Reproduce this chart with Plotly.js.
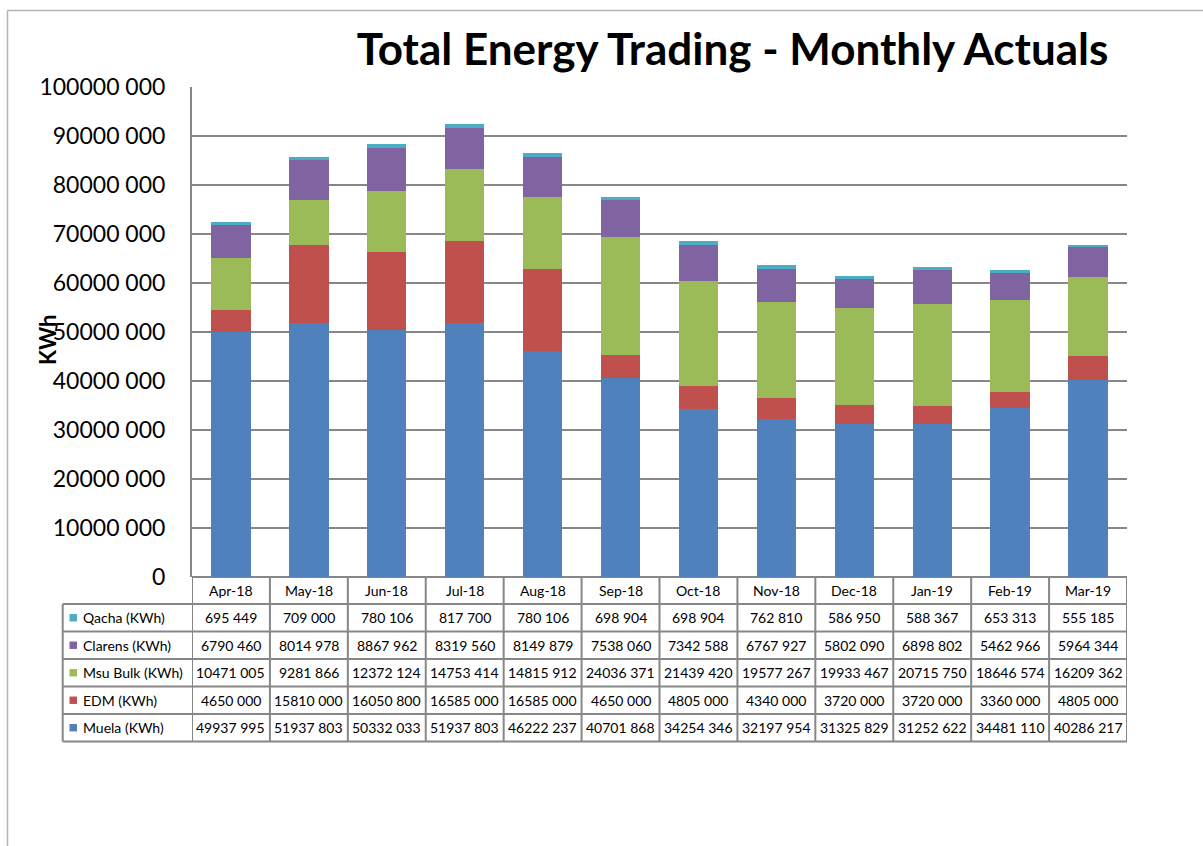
<!DOCTYPE html>
<html>
<head>
<meta charset="utf-8">
<script src="https://cdn.plot.ly/plotly-3.0.1.min.js"></script>
<style>
  html, body { margin: 0; padding: 0; background: #ffffff; }
  #chart { width: 1203px; height: 846px; }
</style>
</head>
<body>
<div id="chart"></div>
<script>
// ---------- data ----------
const months = ['Apr-18','May-18','Jun-18','Jul-18','Aug-18','Sep-18','Oct-18','Nov-18','Dec-18','Jan-19','Feb-19','Mar-19'];
const muela   = [49937995, 51937803, 50332033, 51937803, 46222237, 40701868, 34254346, 32197954, 31325829, 31252622, 34481110, 40286217];
const edm     = [4650000, 15810000, 16050800, 16585000, 16585000, 4650000, 4805000, 4340000, 3720000, 3720000, 3360000, 4805000];
const msuBulk = [10471005, 9281866, 12372124, 14753414, 14815912, 24036371, 21439420, 19577267, 19933467, 20715750, 18646574, 16209362];
const clarens = [6790460, 8014978, 8867962, 8319560, 8149879, 7538060, 7342588, 6767927, 5802090, 6898802, 5462966, 5964344];
const qacha   = [695449, 709000, 780106, 817700, 780106, 698904, 698904, 762810, 586950, 588367, 653313, 555185];

const seriesNames = ['Muela (KWh)', 'EDM (KWh)', 'Msu Bulk (KWh)', 'Clarens (KWh)', 'Qacha (KWh)'];
const seriesValues = [muela, edm, msuBulk, clarens, qacha];
const seriesColors = ['#4F81BD', '#C0504D', '#9BBB59', '#8064A2', '#4BACC6'];
const yTickVals = [0, 10000000, 20000000, 30000000, 40000000, 50000000, 60000000, 70000000, 80000000, 90000000, 100000000];

const chartTitle = 'Total Energy Trading - Monthly Actuals';
const yTitle = 'KWh';

// ---------- helpers ----------
function fmt(n) {
  if (n < 1000) return String(n);
  const hi = Math.floor(n / 1000);
  const lo = String(n % 1000).padStart(3, '0');
  return hi + ' ' + lo;
}
// plot area in pixels
const PL = 192, PR = 1127, PT = 87, PB = 577;
const PW = PR - PL, PH = PB - PT;
const px = v => (v - PL) / PW;
const py = v => (PB - v) / PH;

const FONT = 'Lato, "Open Sans", sans-serif';
const GRID = '#878787';
const TFS = 14;

// ---------- traces ----------
const traces = seriesValues.map((vals, i) => ({
  type: 'bar',
  x: months,
  y: vals,
  name: seriesNames[i],
  marker: { color: seriesColors[i], line: { width: 0 } },
  hoverinfo: 'x+y+name'
}));

// ---------- table (annotations + shapes) ----------
const annotations = [];
const shapes = [];

// header row
const headerTop = 577, headerBot = 604;
const rowBounds = [604, 631.5, 659, 686.5, 714, 741.5];
months.forEach(m => {
  annotations.push({
    xref: 'x', yref: 'paper', x: m, y: py((headerTop + headerBot) / 2),
    text: m, showarrow: false, xanchor: 'center', yanchor: 'middle',
    font: { family: FONT, size: TFS, color: '#000' }
  });
});

// data rows: top to bottom Qacha ... Muela
const rowOrder = [4, 3, 2, 1, 0];
rowOrder.forEach((si, r) => {
  const cy = (rowBounds[r] + rowBounds[r + 1]) / 2;
  annotations.push({
    xref: 'paper', yref: 'paper', x: px(81), y: py(cy),
    text: seriesNames[si], showarrow: false, xanchor: 'left', yanchor: 'middle',
    font: { family: FONT, size: TFS, color: '#000' }
  });
  shapes.push({
    type: 'rect', xref: 'paper', yref: 'paper',
    x0: px(69.5), x1: px(77), y0: py(cy - 3.7), y1: py(cy + 3.7),
    fillcolor: seriesColors[si], line: { width: 0 }
  });
  months.forEach((m, i) => {
    annotations.push({
      xref: 'x', yref: 'paper', x: m, y: py(cy),
      text: fmt(seriesValues[si][i]), showarrow: false, xanchor: 'center', yanchor: 'middle',
      font: { family: FONT, size: TFS, color: '#000' }
    });
  });
});

const lineStyle = { color: GRID, width: 2 };
// horizontal table lines
rowBounds.forEach(yv => {
  shapes.push({ type: 'line', xref: 'paper', yref: 'paper', x0: px(62.7), x1: 1, y0: py(yv), y1: py(yv), line: lineStyle });
});
// vertical column lines
for (let k = 0; k <= months.length; k++) {
  shapes.push({ type: 'line', xref: 'x', yref: 'paper', x0: k - 0.5, x1: k - 0.5, y0: py(headerTop), y1: py(rowBounds[rowBounds.length - 1]), line: lineStyle });
}
shapes.push({ type: 'line', xref: 'paper', yref: 'paper', x0: px(62.7), x1: px(62.7), y0: py(rowBounds[0]), y1: py(rowBounds[rowBounds.length - 1]), line: lineStyle });

// outer frame (top + left edges of the original chart area)
const frame = { color: '#b4b4b4', width: 1.5 };
shapes.push({ type: 'line', xref: 'paper', yref: 'paper', x0: px(7.5), x1: px(1203), y0: py(10.5), y1: py(10.5), line: frame });
shapes.push({ type: 'line', xref: 'paper', yref: 'paper', x0: px(7.5), x1: px(7.5), y0: py(10.5), y1: py(846), line: frame });

// y axis title (overlapping tick labels like the original)
annotations.push({
  xref: 'paper', yref: 'paper', x: px(47), y: py(340),
  text: '<b>' + yTitle + '</b>', showarrow: false, textangle: -90,
  xanchor: 'center', yanchor: 'middle',
  font: { family: FONT, size: 22, color: '#000' }
});

const layout = {
  width: 1203, height: 846,
  margin: { l: PL, r: 1203 - PR, t: PT, b: 846 - PB, pad: 0 },
  paper_bgcolor: '#ffffff', plot_bgcolor: '#ffffff',
  barmode: 'stack',
  bargap: 0.495,
  showlegend: false,
  title: {
    text: '<b>' + chartTitle + '</b>',
    xref: 'paper', x: px(732.5), xanchor: 'center',
    yref: 'container', y: 1 - 50 / 846, yanchor: 'middle',
    font: { family: FONT, size: 44, color: '#000' }
  },
  xaxis: {
    type: 'category',
    range: [-0.5, months.length - 0.5],
    showticklabels: false,
    showgrid: false, zeroline: false, showline: false, ticks: ''
  },
  yaxis: {
    range: [0, 100000000],
    tickvals: yTickVals,
    ticktext: yTickVals.map(fmt),
    tickfont: { family: FONT, size: 23, color: '#000' },
    ticks: '',
    ticklabelstandoff: 20,
    showgrid: true, gridcolor: GRID, gridwidth: 2,
    zeroline: true, zerolinecolor: GRID, zerolinewidth: 2,
    showline: true, linecolor: GRID, linewidth: 2
  },
  annotations: annotations,
  shapes: shapes
};

Plotly.newPlot('chart', traces, layout, { displayModeBar: false, staticPlot: true });
</script>
</body>
</html>
